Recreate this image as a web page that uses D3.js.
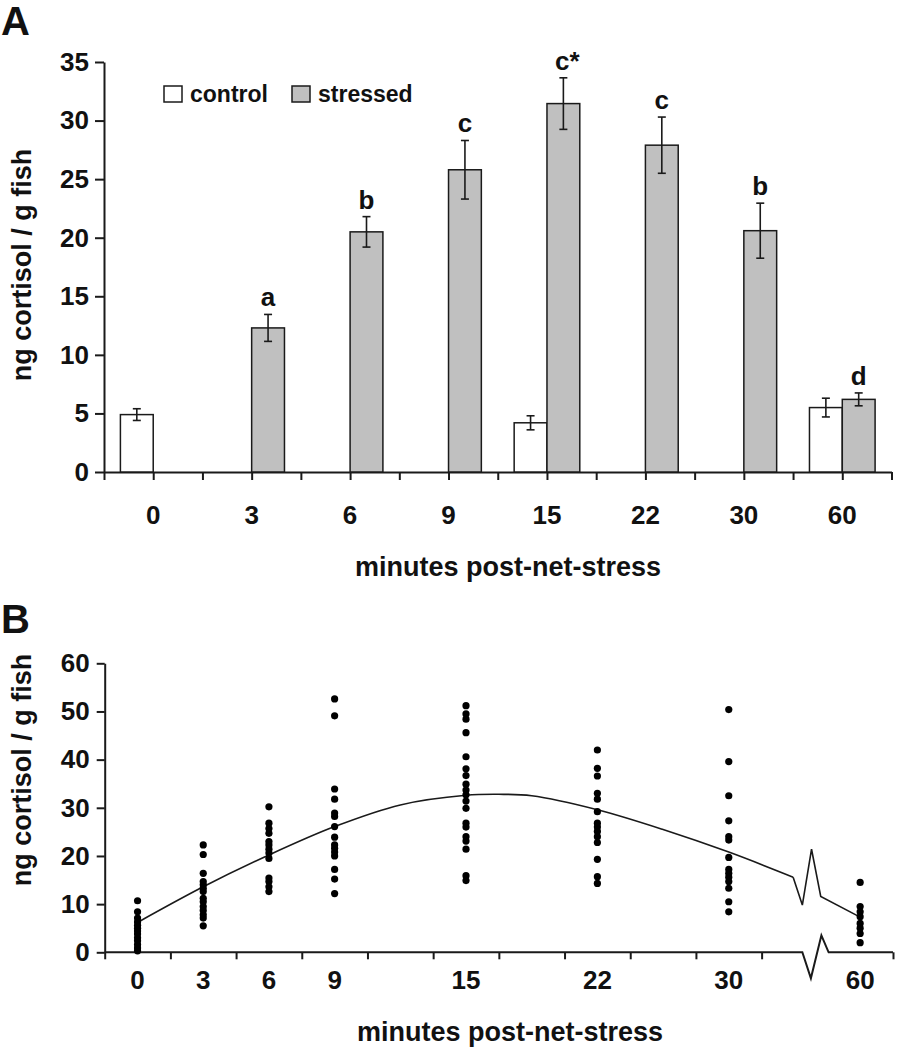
<!DOCTYPE html>
<html><head><meta charset="utf-8">
<script src="https://cdn.jsdelivr.net/npm/d3@7"></script>
<style>
body{margin:0;background:#fff}
svg{display:block}
text{font-family:"Liberation Sans",Arial,Helvetica,sans-serif;font-weight:bold;fill:#111}
</style>
</head><body>
<svg id="c" width="902" height="1050"></svg>
<script>
// ---------- Panel A data ----------
const timesA = ["0","3","6","9","15","22","30","60"];
const controlMean = [4.9, null, null, null, 4.2, null, null, 5.5];
const controlErr  = [0.5, null, null, null, 0.6, null, null, 0.8];
const stressedMean = [null, 12.3, 20.5, 25.8, 31.45, 27.9, 20.6, 6.2];
const stressedErr  = [null, 1.15, 1.3, 2.5, 2.2, 2.4, 2.35, 0.55];
const sigLetters   = [null, "a", "b", "c", "c*", "c", "b", "d"];
const yTicksA = [0,5,10,15,20,25,30,35];
const legendA = ["control","stressed"];

// ---------- Panel B data ----------
const slotKeysB = ["0","3","6","9",null,"15",null,"22",null,"30",null,"60"];
const timesB = ["0","3","6","9","15","22","30","60"];
const dots0  = [10.7, 8.4, 7.1, 6.3, 5.6, 5.0, 4.4, 3.8, 3.0, 2.4, 1.6, 0.9, 0.3];
const dots3  = [22.3, 20.3, 16.4, 14.7, 14.0, 13.3, 12.6, 11.2, 10.5, 9.5, 8.7, 7.8, 7.1, 5.5];
const dots6  = [30.2, 26.8, 25.7, 24.7, 23.0, 22.3, 21.4, 20.6, 19.5, 15.4, 14.7, 13.6, 12.6];
const dots9  = [52.6, 49.1, 33.9, 31.8, 28.9, 28.2, 26.1, 23.9, 22.3, 21.6, 20.8, 20.0, 17.2, 15.2, 12.2];
const dots15 = [51.2, 49.5, 48.4, 45.6, 40.6, 38.1, 36.7, 34.9, 33.7, 32.7, 31.4, 29.9, 26.8, 26.0, 24.0, 23.1, 21.4, 15.9, 14.9];
const dots22 = [42.0, 38.2, 36.6, 33.0, 31.8, 29.2, 26.8, 26.0, 25.1, 24.0, 22.8, 19.3, 15.7, 14.3];
const dots30 = [50.4, 39.6, 32.5, 27.3, 24.0, 23.3, 19.7, 17.2, 16.4, 15.6, 14.7, 13.3, 10.5, 8.4];
const dots60 = [14.5, 9.5, 8.4, 7.4, 6.0, 5.0, 3.9, 2.0];
const dotsB = [dots0, dots3, dots6, dots9, dots15, dots22, dots30, dots60];
// fitted curve (x in slot units, y in ng/g)
const curveSlot  = [0, 1, 2, 3, 4, 5, 5.5, 6, 7, 8, 9, 9.98];
const curveValue = [6.2, 13.6, 20.2, 26.1, 30.6, 32.6, 32.8, 32.5, 29.6, 25.5, 20.8, 15.6];
const curveBreakSlot  = [9.98, 10.12, 10.26, 10.4, 11];
const curveBreakValue = [15.6, 9.8, 21.4, 11.6, 7.3];
const yTicksB = [0,10,20,30,40,50,60];

const svg = d3.select("#c");
const ink = "#1a1a1a";

// ================= PANEL A =================
const A = {left:104, right:891.5, top:62, bottom:472};
const x0 = d3.scaleBand().domain(timesA).range([A.left, A.right]).padding(0);
const x1 = d3.scaleBand().domain(legendA).range([0, x0.bandwidth()]).paddingOuter(0.5).paddingInner(0);
const yA = d3.scaleLinear().domain([0,35]).range([A.bottom, A.top]);
const gA = svg.append("g");

svg.append("text").attr("x",1).attr("y",35).attr("font-size",40).text("A");

// y axis
const yAxA = gA.append("g").attr("transform",`translate(${A.left},0)`)
  .call(d3.axisLeft(yA).tickValues(yTicksA).tickSize(9).tickPadding(6).tickSizeOuter(0));
yAxA.selectAll("text").attr("font-size",26).style("font-family","'Liberation Sans',Arial,sans-serif").style("font-weight","bold").attr("fill",ink);
yAxA.selectAll("line,path").attr("stroke",ink).attr("stroke-width",2);

// x axis ticks (category edges and centers)
const xTickA = d3.scaleLinear().domain([0, timesA.length]).range([A.left, A.right]);
const xAxA = gA.append("g").attr("transform",`translate(0,${A.bottom})`)
  .call(d3.axisBottom(xTickA).tickValues(d3.range(0, timesA.length+0.01, 0.5)).tickFormat("").tickSize(8).tickSizeOuter(0));
xAxA.selectAll("line,path").attr("stroke",ink).attr("stroke-width",2);

// x labels
gA.selectAll(".xlA").data(timesA).join("text")
  .attr("x", d => x0(d) + x0.bandwidth()/2).attr("y", 524)
  .attr("text-anchor","middle").attr("font-size",26).text(d => d);
gA.append("text").attr("x",508).attr("y",576).attr("text-anchor","middle").attr("font-size",27).text("minutes post-net-stress");
gA.append("text").attr("transform","translate(31,265) rotate(-90)").attr("text-anchor","middle").attr("font-size",27).text("ng cortisol / g fish");

// bars
const barsData = [];
timesA.forEach((t,i) => {
  if (controlMean[i] != null) barsData.push({t, s:"control", v:controlMean[i], e:controlErr[i], lab:null});
  if (stressedMean[i] != null) barsData.push({t, s:"stressed", v:stressedMean[i], e:stressedErr[i], lab:sigLetters[i]});
});
gA.selectAll(".bar").data(barsData).join("rect")
  .attr("x", d => x0(d.t) + x1(d.s)).attr("width", x1.bandwidth())
  .attr("y", d => yA(d.v)).attr("height", d => yA(0) - yA(d.v))
  .attr("fill", d => d.s === "control" ? "#ffffff" : "#c0c0c0")
  .attr("stroke", ink).attr("stroke-width",1.5);
// error bars
const eb = gA.selectAll(".eb").data(barsData).join("g")
  .attr("transform", d => `translate(${x0(d.t) + x1(d.s) + x1.bandwidth()/2},0)`);
eb.append("line").attr("y1", d => yA(d.v + d.e)).attr("y2", d => yA(d.v - d.e)).attr("stroke",ink).attr("stroke-width",1.6);
eb.append("line").attr("x1",-4).attr("x2",4).attr("y1", d => yA(d.v + d.e)).attr("y2", d => yA(d.v + d.e)).attr("stroke",ink).attr("stroke-width",1.6);
eb.append("line").attr("x1",-4).attr("x2",4).attr("y1", d => yA(d.v - d.e)).attr("y2", d => yA(d.v - d.e)).attr("stroke",ink).attr("stroke-width",1.6);
eb.filter(d => d.lab).append("text").attr("x", d => d.lab === "c*" ? 4 : 0).attr("y", d => yA(d.v + d.e) - 8)
  .attr("text-anchor","middle").attr("font-size",26).text(d => d.lab);

// legend
const lg = gA.append("g");
const legX = [164, 292];
legendA.forEach((k,i) => {
  lg.append("rect").attr("x",legX[i]).attr("y",86).attr("width",18).attr("height",16)
    .attr("fill", k === "control" ? "#fff" : "#c0c0c0").attr("stroke",ink).attr("stroke-width",1.5);
  lg.append("text").attr("x",legX[i]+26).attr("y",102).attr("font-size",23).text(k);
});

// ================= PANEL B =================
const B = {left:104.7, right:893, top:663.3, bottom:952.3};
const xB = d3.scaleLinear().domain([-0.5, slotKeysB.length - 0.5]).range([B.left, B.right]);
const yB = d3.scaleLinear().domain([0,60]).range([B.bottom, B.top]);
const gB = svg.append("g");
svg.append("text").attr("x",1).attr("y",633).attr("font-size",40).text("B");

const yAxB = gB.append("g").attr("transform",`translate(${B.left},0)`)
  .call(d3.axisLeft(yB).tickValues(yTicksB).tickSize(8).tickPadding(7).tickSizeOuter(0));
yAxB.selectAll("text").attr("font-size",26).style("font-family","'Liberation Sans',Arial,sans-serif").style("font-weight","bold").attr("fill",ink);
yAxB.selectAll("line,path").attr("stroke",ink).attr("stroke-width",2);

// x axis: ticks at slot edges except the break
const tickEdges = d3.range(0, slotKeysB.length + 1).filter(i => i !== slotKeysB.length - 1).map(i => i - 0.5);
const xAxB = gB.append("g").attr("transform",`translate(0,${B.bottom})`)
  .call(d3.axisBottom(xB).tickValues(tickEdges).tickFormat("").tickSize(7).tickSizeOuter(0));
xAxB.select(".domain").remove();
xAxB.selectAll("line").attr("stroke",ink).attr("stroke-width",2);
// domain line with break
const axisBreak = [[-0.5,0],[10.12,0],[10.25,26],[10.41,-17],[10.52,0],[slotKeysB.length-0.5,0]];
gB.append("path").attr("d", d3.line().x(d => xB(d[0])).y(d => B.bottom + d[1])(axisBreak))
  .attr("fill","none").attr("stroke",ink).attr("stroke-width",2);

// x labels
gB.selectAll(".xlB").data(timesB).join("text")
  .attr("x", d => xB(slotKeysB.indexOf(d))).attr("y", 989)
  .attr("text-anchor","middle").attr("font-size",26).text(d => d);
gB.append("text").attr("x",510).attr("y",1041).attr("text-anchor","middle").attr("font-size",27).text("minutes post-net-stress");
gB.append("text").attr("transform","translate(31,770) rotate(-90)").attr("text-anchor","middle").attr("font-size",27).text("ng cortisol / g fish");

// curve
const curvePts = curveSlot.map((s,i) => [s, curveValue[i]]);
gB.append("path").attr("d", d3.line().x(d => xB(d[0])).y(d => yB(d[1])).curve(d3.curveCatmullRom.alpha(0.5))(curvePts))
  .attr("fill","none").attr("stroke",ink).attr("stroke-width",1.6);
const breakPts = curveBreakSlot.map((s,i) => [s, curveBreakValue[i]]);
gB.append("path").attr("d", d3.line().x(d => xB(d[0])).y(d => yB(d[1]))(breakPts))
  .attr("fill","none").attr("stroke",ink).attr("stroke-width",1.6);

// dots
const dotRows = [];
timesB.forEach((t,i) => dotsB[i].forEach(v => dotRows.push({t, v})));
gB.selectAll(".dot").data(dotRows).join("circle")
  .attr("cx", d => xB(slotKeysB.indexOf(d.t))).attr("cy", d => yB(d.v)).attr("r",3.6).attr("fill","#000");
</script>
</body></html>
